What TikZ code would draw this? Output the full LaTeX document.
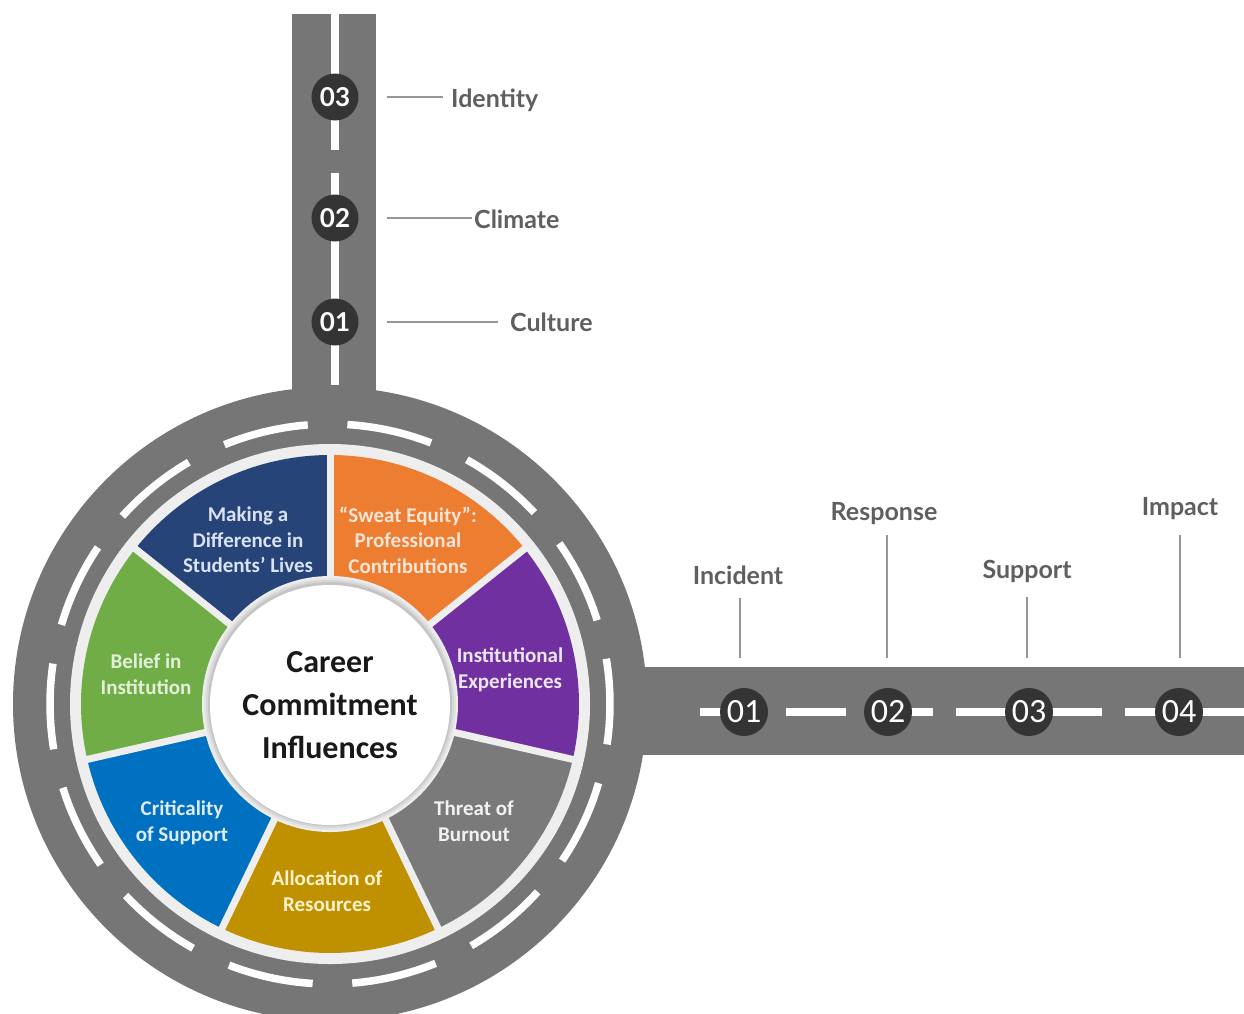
\documentclass[tikz,border=0pt]{standalone}
\usepackage{fontspec}
\setmainfont{Lato}
\newfontfamily\calfont{Carlito}
\usetikzlibrary{calc}

\definecolor{road}{RGB}{118,118,118}
\definecolor{dot}{RGB}{52,52,52}
\definecolor{labelgray}{RGB}{95,95,95}
\definecolor{leadergray}{RGB}{150,150,150}
\definecolor{gapgray}{RGB}{238,238,238}
\definecolor{segnavy}{RGB}{38,68,120}
\definecolor{segorange}{RGB}{237,125,49}
\definecolor{segpurple}{RGB}{112,48,160}
\definecolor{seggray}{RGB}{122,122,122}
\definecolor{seggold}{RGB}{191,144,0}
\definecolor{segblue}{RGB}{0,112,192}
\definecolor{seggreen}{RGB}{112,173,71}
\definecolor{tnavy}{RGB}{218,227,243}
\definecolor{torange}{RGB}{251,229,214}
\definecolor{tpurple}{RGB}{236,230,244}
\definecolor{tgray}{RGB}{242,242,242}
\definecolor{tgold}{RGB}{255,242,204}
\definecolor{tblue}{RGB}{222,235,247}
\definecolor{tgreen}{RGB}{226,240,217}

\tikzset{
  lane/.style={draw=white, line width=7.5, line cap=butt},
  vnum/.style={circle, fill=dot, minimum size=47, inner sep=0, text=white,
    font=\fontsize{26}{26}\selectfont\bfseries},
  hnum/.style={circle, fill=dot, minimum size=48, inner sep=0, text=white,
    font=\calfont\fontsize{34}{34}\selectfont},
  lab/.style={text=labelgray, font=\fontsize{25}{25}\selectfont\bfseries,
    inner sep=0, text depth=0pt},
  leader/.style={draw=leadergray, line width=1.6},
  segtext/.style={align=center, inner sep=0,
    font=\calfont\bfseries\fontsize{21}{25.5}\selectfont},
  hub/.style={circle, fill=white, minimum size=240, inner sep=0, align=center,
    text=black!90, font=\calfont\bfseries\fontsize{32}{43}\selectfont}
}

\begin{document}
\begin{tikzpicture}[x=1pt,y=-1pt]
\useasboundingbox (0,0) rectangle (1244,1013);

\begin{scope}
  \clip (0,0) rectangle (1244,1013);
  % straight roads
  \fill[road] (292,14) rectangle (376,400);
  \fill[road] (620,667) rectangle (1244,755);

  % roundabout
  \begin{scope}[shift={(330,704)}, yscale=-1]
    \fill[road] (0,0) circle[radius=317];
    \fill[gapgray] (0,0) circle[radius=260];
    \foreach \k in {0,...,13}{
      \pgfmathsetmacro\c{103.36+25.714*\k}
      \draw[lane] ({\c-8.8}:280) arc[start angle=\c-8.8, end angle=\c+8.8, radius=280];
    }
    % coloured sectors, clockwise from the top
    \foreach \col [count=\i from 0] in {segorange,segpurple,seggray,seggold,segblue,seggreen,segnavy}{
      \pgfmathsetmacro\a{90-51.4286*\i}
      \pgfmathsetmacro\b{\a-51.4286}
      \fill[\col] (\a:120) arc[start angle=\a, end angle=\b, radius=120]
        -- (\b:249) arc[start angle=\b, end angle=\a, radius=249] -- cycle;
    }
    \foreach \i in {0,...,6}{
      \pgfmathsetmacro\a{90-51.4286*\i}
      \draw[gapgray, line width=7] (\a:110) -- (\a:252);
    }
    % light rim and soft edge round the hub
    \fill[gapgray] (0,0) circle[radius=128];
    \foreach \r/\o in {126/0.04,124/0.06,122/0.08}{
      \fill[black, opacity=\o] (0,0) circle[radius=\r];
    }
  \end{scope}

  % centre lines
  \draw[lane] (335,14) -- (335,150);
  \draw[lane] (335,173) -- (335,385);
  \draw[lane] (700,712) -- (744,712);
  \draw[lane] (786,712) -- (846,712);
  \draw[lane] (888,712) -- (933,712);
  \draw[lane] (956,712) -- (1102,712);
  \draw[lane] (1125,712) -- (1244,712);
\end{scope}

% hub
\node[hub] (hub) at (330,705) {Career\\Commitment\\Influences};

% sector texts
\node[segtext, text=tnavy]   (s1) at (248,540) {Making a\\Difference in\\Students’ Lives};
\node[segtext, text=torange] (s2) at (408,540) {“Sweat Equity”:\\Professional\\Contributions};
\node[segtext, text=tpurple] (s3) at (510,670) {Institutional\\Experiences};
\node[segtext, text=tgray]   (s4) at (474,821) {Threat of\\Burnout};
\node[segtext, text=tgold]   (s5) at (327,891) {Allocation of\\Resources};
\node[segtext, text=tblue]   (s6) at (182,823) {Criticality\\of Support};
\node[segtext, text=tgreen]  (s7) at (146,674) {Belief in\\Institution};

% milestones on the vertical road
\node[vnum] (v3) at (335,97) {03};
\node[vnum] (v2) at (335,218) {02};
\node[vnum] (v1) at (335,322) {01};

\node[lab, anchor=base west] (lid) at (451,107) {Identity};
\node[lab, anchor=base west] (lcl) at (474,228) {Climate};
\node[lab, anchor=base west] (lcu) at (510,331) {Culture};

\draw[leader] ($(v3.east)+(28,0)$) -- ($(v3.east -| lid.west)+(-8,0)$);
\draw[leader] ($(v2.east)+(28,0)$) -- ($(v2.east -| lcl.west)+(-2,0)$);
\draw[leader] ($(v1.east)+(28,0)$) -- ($(v1.east -| lcu.west)+(-12,0)$);

% milestones on the horizontal road
\node[hnum] (h1) at (744,712) {01};
\node[hnum] (h2) at (888,712) {02};
\node[hnum] (h3) at (1029,712) {03};
\node[hnum] (h4) at (1179,712) {04};

\node[lab, anchor=base] (linc) at (738,584) {Incident};
\node[lab, anchor=base] (lres) at (884,520) {Response};
\node[lab, anchor=base] (lsup) at (1027,578) {Support};
\node[lab, anchor=base] (limp) at (1180,515) {Impact};

\draw[leader] ($(h1.north)+(-4,-30)$) -- ($(h1.north |- linc.base)+(-4,14)$);
\draw[leader] ($(h2.north)+(-1,-30)$) -- ($(h2.north |- lres.base)+(-1,15)$);
\draw[leader] ($(h3.north)+(-2,-30)$) -- ($(h3.north |- lsup.base)+(-2,19)$);
\draw[leader] ($(h4.north)+(1,-30)$) -- ($(h4.north |- limp.base)+(1,20)$);
\end{tikzpicture}
\end{document}
